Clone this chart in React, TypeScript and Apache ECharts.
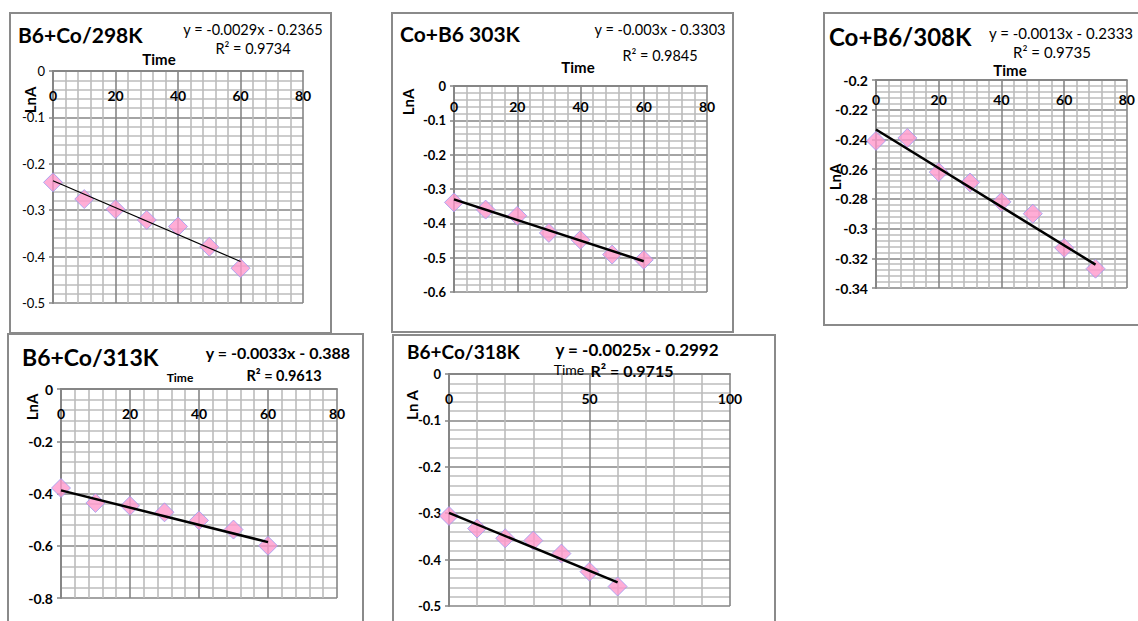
import React, { useEffect, useRef } from "react";
import * as echarts from "echarts";

// Time (min) and ln A readings for each temperature run
const times = [0, 10, 20, 30, 40, 50, 60];
const times308 = [0, 10, 20, 30, 40, 50, 60, 70];
const lnA298 = [-0.24, -0.276, -0.298, -0.321, -0.335, -0.379, -0.425];
const lnA303 = [-0.339, -0.36, -0.378, -0.428, -0.448, -0.491, -0.506];
const lnA308 = [-0.241, -0.239, -0.262, -0.269, -0.282, -0.29, -0.313, -0.327];
const lnA313 = [-0.379, -0.436, -0.447, -0.472, -0.503, -0.538, -0.6];
const lnA318 = [-0.306, -0.333, -0.354, -0.359, -0.387, -0.426, -0.458];

// Linear fits printed on each panel
const slopes = [-0.0029, -0.003, -0.0013, -0.0033, -0.0025];
const intercepts = [-0.2365, -0.3303, -0.2333, -0.388, -0.2992];
const rSquared = ["0.9734", "0.9845", "0.9735", "0.9613", "0.9715"];

const panelTitles = ["B6+Co/298K", "Co+B6 303K", "Co+B6/308K", "B6+Co/313K", "B6+Co/318K"];
const xTitles = ["Time", "Time", "Time", "Time", "Time"];
const yTitles = ["LnA", "LnA", "LnA", "LnA", "Ln A"];

// Axis ranges
const xMax = [80, 80, 80, 80, 100];
const xStep = [20, 20, 20, 20, 50];
const yMin = [-0.5, -0.6, -0.34, -0.8, -0.5];
const yMax = [0, 0, -0.2, 0, 0];
const yStep = [0.1, 0.1, 0.02, 0.2, 0.1];

const seriesX = [times, times, times308, times, times];
const seriesY = [lnA298, lnA303, lnA308, lnA313, lnA318];

// Panel geometry and text placement
const layout = [
  {
    box: [10, 13, 321, 320],
    grid: [53, 71, 250, 232],
    title: [18, 34, 21], eq: [253, 29, 14.5, "normal"], r2: [253, 48, 14.5, "normal"],
    time: [159, 59, 15, "bold"], lna: [30, 100, 15],
    ylab: ["normal", 13], xlabMargin: 17, trendWidth: 1.2,
  },
  {
    box: [392, 13, 341, 319],
    grid: [454, 86, 253, 206],
    title: [400, 33, 21], eq: [660, 29, 14.5, "normal"], r2: [660, 55, 14.5, "normal"],
    time: [578, 67, 15, "bold"], lna: [408, 102, 15],
    ylab: ["bold", 13], xlabMargin: 13, trendWidth: 2.5,
  },
  {
    box: [824, 13, 330, 312],
    grid: [876, 80, 251, 208],
    title: [829, 36, 24], eq: [1061, 33, 15, "normal"], r2: [1052, 52, 15, "normal"],
    time: [1010, 70, 15, "bold"], lna: [835, 177, 15],
    ylab: ["bold", 14], xlabMargin: 12, trendWidth: 2.5,
  },
  {
    box: [8, 334, 355, 320],
    grid: [61, 389, 276, 209],
    title: [22, 357, 23], eq: [278, 352, 16, "bold"], r2: [284, 375, 14.5, "bold"],
    time: [180, 377, 12, "bold"], lna: [32, 407, 15],
    ylab: ["bold", 14], xlabMargin: 17, trendWidth: 2.5,
  },
  {
    box: [393, 335, 382, 320],
    grid: [449, 374, 281, 232],
    title: [407, 351, 19], eq: [637, 349, 17, "bold"], r2: [632, 370, 16, "bold"],
    time: [569, 369, 14, "normal"], lna: [412, 405, 15],
    ylab: ["bold", 13], xlabMargin: 17, trendWidth: 2.5,
  },
];

const FONT = "Lato, 'Open Sans', sans-serif";
const MINOR = "#bcbcbc";
const MAJOR = "#868686";

function equation(i: number) {
  const b = intercepts[i];
  return `y = ${slopes[i]}x ${b < 0 ? "-" : "+"} ${Math.abs(b)}`;
}

function buildOption() {
  const grid: any[] = [];
  const xAxis: any[] = [];
  const yAxis: any[] = [];
  const series: any[] = [];
  const graphic: any[] = [];

  layout.forEach((L, i) => {
    const [gl, gt, gw, gh] = L.grid;
    grid.push({ left: gl, top: gt, width: gw, height: gh, containLabel: false });

    xAxis.push({
      type: "value",
      gridIndex: i,
      position: "top",
      min: 0,
      max: xMax[i],
      interval: xStep[i],
      axisLine: { show: true, onZero: false, lineStyle: { color: MAJOR, width: 2 } },
      axisTick: { show: false },
      minorTick: { show: false, splitNumber: 5 },
      axisLabel: {
        inside: true,
        margin: L.xlabMargin,
        color: "#000",
        fontFamily: FONT,
        fontSize: 14,
        fontWeight: "bold",
        showMinLabel: true,
        showMaxLabel: true,
      },
      splitLine: { show: true, lineStyle: { color: MAJOR, width: 1.6 } },
      minorSplitLine: { show: true, lineStyle: { color: MINOR, width: 1.6 } },
    });

    yAxis.push({
      type: "value",
      gridIndex: i,
      min: yMin[i],
      max: yMax[i],
      interval: yStep[i],
      axisLine: { show: true, onZero: false, lineStyle: { color: MAJOR, width: 2 } },
      axisTick: { show: true, length: 4, lineStyle: { color: MAJOR, width: 1.5 } },
      minorTick: { show: false, splitNumber: 5 },
      axisLabel: {
        margin: 8,
        color: "#000",
        fontFamily: FONT,
        fontSize: L.ylab[1],
        fontWeight: L.ylab[0],
        showMinLabel: true,
        showMaxLabel: true,
      },
      splitLine: { show: true, lineStyle: { color: MAJOR, width: 1.6 } },
      minorSplitLine: { show: true, lineStyle: { color: MINOR, width: 1.6 } },
    });

    const xs = seriesX[i];
    const ys = seriesY[i];
    series.push({
      type: "scatter",
      name: panelTitles[i],
      xAxisIndex: i,
      yAxisIndex: i,
      symbol: "diamond",
      symbolSize: 19,
      itemStyle: { color: "#FF99CC", borderColor: "#9a9af2", borderWidth: 1 },
      data: xs.map((x, k) => [x, ys[k]]),
      z: 3,
    });

    const lastX = xs[xs.length - 1];
    series.push({
      type: "line",
      name: panelTitles[i] + " fit",
      xAxisIndex: i,
      yAxisIndex: i,
      symbol: "none",
      lineStyle: { color: "#000", width: L.trendWidth },
      data: [
        [0, intercepts[i]],
        [lastX, slopes[i] * lastX + intercepts[i]],
      ],
      z: 5,
      silent: true,
    });

    const [bx, by, bw, bh] = L.box;
    graphic.push({
      type: "rect",
      shape: { x: bx, y: by, width: bw, height: bh },
      style: { fill: "#fff", stroke: "#8a8a8a", lineWidth: 2 },
      z: -10,
      silent: true,
    });

    graphic.push({
      type: "text",
      x: L.title[0],
      y: L.title[1],
      style: {
        text: panelTitles[i],
        font: `bold ${L.title[2]}px ${FONT}`,
        fill: "#000",
        textAlign: "left",
        textVerticalAlign: "middle",
      },
      z: 10,
    });
    graphic.push({
      type: "text",
      x: L.eq[0],
      y: L.eq[1],
      style: {
        text: equation(i),
        font: `${L.eq[3]} ${L.eq[2]}px ${FONT}`,
        fill: "#000",
        textAlign: "center",
        textVerticalAlign: "middle",
      },
      z: 10,
    });
    graphic.push({
      type: "text",
      x: L.r2[0],
      y: L.r2[1],
      style: {
        text: `R² = ${rSquared[i]}`,
        font: `${L.r2[3]} ${L.r2[2]}px ${FONT}`,
        fill: "#000",
        textAlign: "center",
        textVerticalAlign: "middle",
      },
      z: 10,
    });
    graphic.push({
      type: "text",
      x: L.time[0],
      y: L.time[1],
      style: {
        text: xTitles[i],
        font: `${L.time[3]} ${L.time[2]}px ${FONT}`,
        fill: "#000",
        textAlign: "center",
        textVerticalAlign: "middle",
      },
      z: 9,
    });
    graphic.push({
      type: "text",
      x: L.lna[0],
      y: L.lna[1],
      rotation: Math.PI / 2,
      style: {
        text: yTitles[i],
        font: `bold ${L.lna[2]}px ${FONT}`,
        fill: "#000",
        textAlign: "center",
        textVerticalAlign: "middle",
      },
      z: 10,
    });
  });

  return {
    animation: false,
    backgroundColor: "#ffffff",
    grid,
    xAxis,
    yAxis,
    series,
    graphic,
  };
}

export default function App() {
  const ref = useRef<HTMLDivElement>(null);

  useEffect(() => {
    if (!ref.current) return;
    const chart = echarts.init(ref.current, undefined, { renderer: "svg" });
    chart.setOption(buildOption() as any);
    return () => {
      chart.dispose();
    };
  }, []);

  return (
    <div
      ref={ref}
      style={{ position: "absolute", left: 0, top: 0, width: 1138, height: 621 }}
    />
  );
}
